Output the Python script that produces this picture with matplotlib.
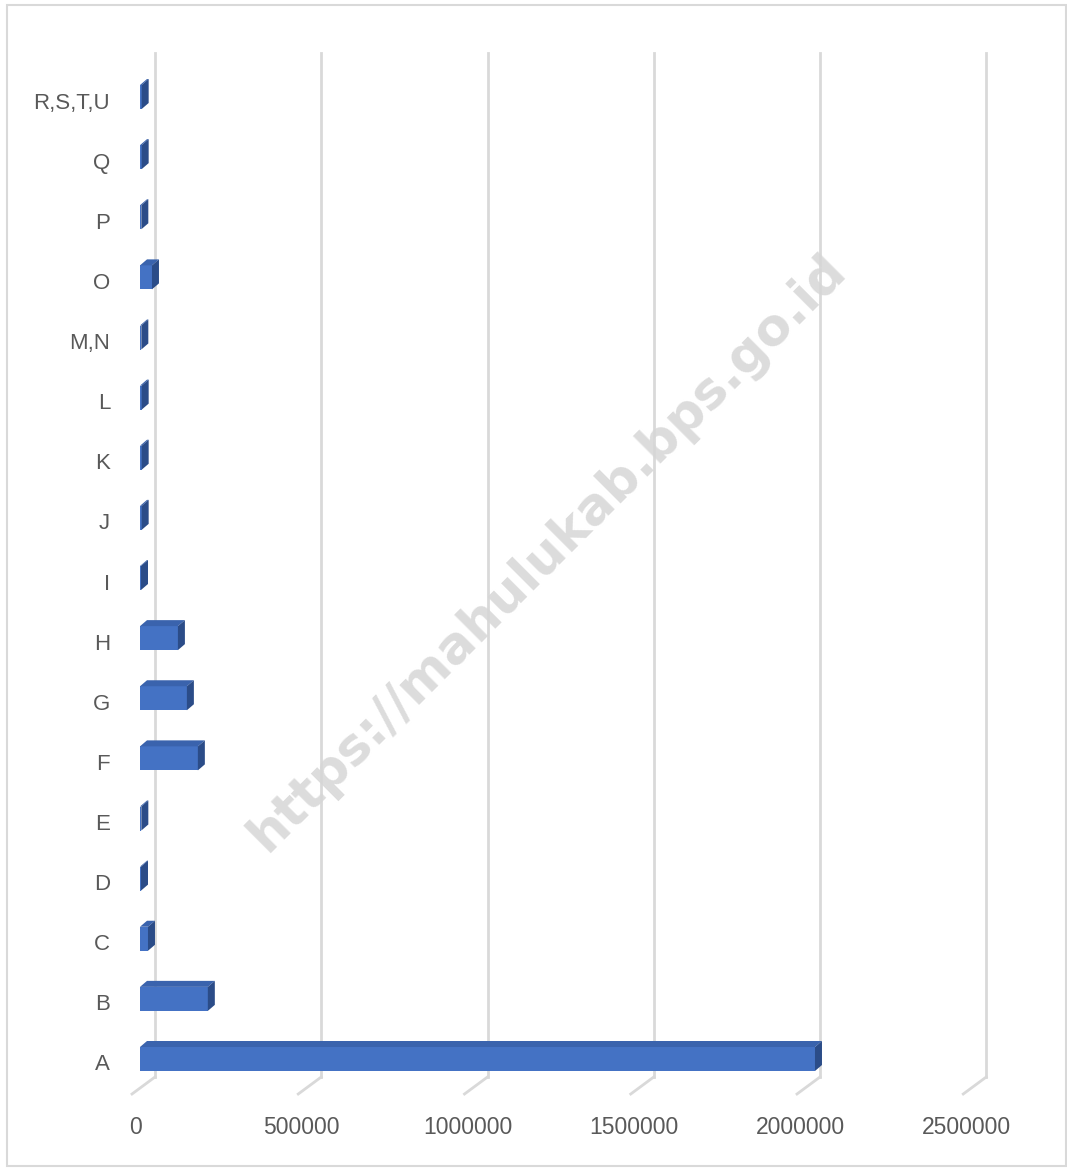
import matplotlib.pyplot as plt
from matplotlib.patches import Polygon, Rectangle
from matplotlib.transforms import ScaledTranslation
import numpy as np

categories = ['A', 'B', 'C', 'D', 'E', 'F', 'G', 'H', 'I', 'J', 'K', 'L',
              'M,N', 'O', 'P', 'Q', 'R,S,T,U']
values = [2030000, 204000, 24000, 3000, 4000, 174000, 141000, 114000, 3000,
          5000, 5000, 5000, 4000, 36000, 4000, 5000, 5000]
xticks = [0, 500000, 1000000, 1500000, 2000000, 2500000]
xticklabels = ['0', '500000', '1000000', '1500000', '2000000', '2500000']

W, H = 1067, 1169
dpi = 100
fig = plt.figure(figsize=(W / dpi, H / dpi), dpi=dpi)

# axes placed in pixel terms (image y goes down)
x0_px, x1_px = 140, 140 + 2.5 * 332.5
step = 60.125
yA = 1062
ytop_px = yA - step * 16.5
ybot_px = yA + step * 0.5
ax = fig.add_axes([x0_px / W, 1 - ybot_px / H, (x1_px - x0_px) / W, (ybot_px - ytop_px) / H])
ax.set_xlim(0, 2500000)
ax.set_ylim(-0.5, 16.5)
ax.axis('off')

px_x = (x1_px - x0_px) / 2500000   # pixels per value unit
px_y = step                         # pixels per category


def img_y(py):
    # image pixel row -> category units
    return (yA - py) / step


def shift(dx, dy):
    return ax.transData + ScaledTranslation(dx / dpi, dy / dpi, fig.dpi_scale_trans)


grid_c = '#d9d9d9'
# back wall gridlines + floor slant
for t in xticks:
    ax.plot([t, t], [img_y(1077), img_y(53)], color=grid_c, lw=2,
            transform=shift(15, 0), clip_on=False, zorder=1)
    xa = t + 15 / px_x
    xb = t - 8 / px_x
    ax.plot([xa, xb], [img_y(1077), img_y(1094)], color=grid_c, lw=2,
            clip_on=False, zorder=1)

# 3d-ish bars
h = 24 / px_y
ddx = 7 / px_x
ddy = 6 / px_y
front_c = '#4472c4'
top_c = '#3a63ad'
side_c = '#2b4c88'
ypos = np.arange(len(categories)) + 3 / px_y
ax.barh(ypos, values, height=h, color=front_c, zorder=3)
for y, v in zip(ypos, values):
    top = y + h / 2
    bot = y - h / 2
    ax.add_patch(Polygon([(0, top), (v, top), (v + ddx, top + ddy), (ddx, top + ddy)],
                         closed=True, facecolor=top_c, edgecolor='none', zorder=3))
    ax.add_patch(Polygon([(v, bot), (v, top), (v + ddx, top + ddy), (v + ddx, bot + ddy)],
                         closed=True, facecolor=side_c, edgecolor='none', zorder=3))

txt_c = '#595959'
for y, c in enumerate(categories):
    ax.text(0, y, c, ha='right', va='center', fontsize=16, color=txt_c,
            family='Liberation Sans', transform=shift(-30, -3), clip_on=False)
for t, lab in zip(xticks, xticklabels):
    ax.text(t, img_y(1127), lab, ha='center', va='center', fontsize=16.5, color=txt_c,
            family='Liberation Sans', transform=shift(-5, 0), clip_on=False)

# watermark
fig.text(548 / W, 1 - 553 / H, 'https://mahulukab.bps.go.id', rotation=45,
         ha='center', va='center', fontsize=37, fontweight='bold', color='#d6d6d6',
         alpha=0.85, zorder=10)

# chart border
fig.patches.append(Rectangle((7 / W, 1 - 1166 / H), (1066 - 7) / W, (1166 - 5) / H,
                             transform=fig.transFigure, fill=False, edgecolor=grid_c, lw=1.5))

fig.savefig('out.png', dpi=dpi)
